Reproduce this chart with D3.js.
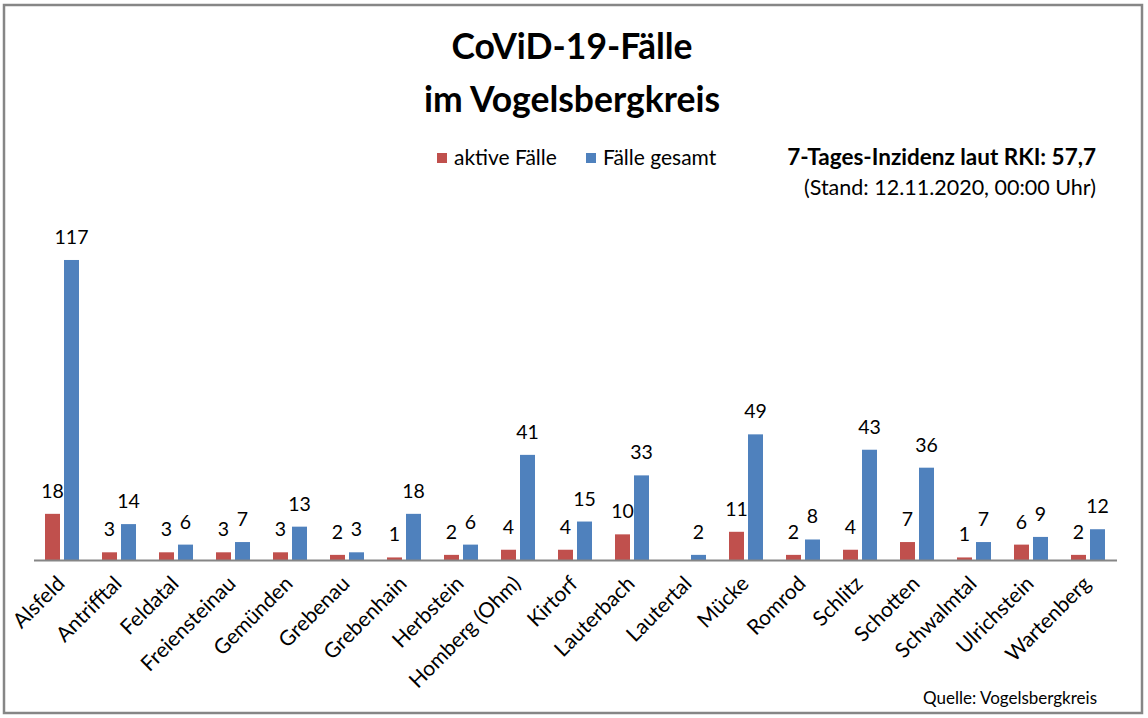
<!DOCTYPE html>
<html lang="de">
<head>
    <meta charset="UTF-8">
    <title>CoViD-19-Fälle im Vogelsbergkreis</title>
    <script src="https://d3js.org/d3.v7.min.js"></script>
    <style>
        body { margin: 0; background: #fff; }
        svg text { font-family: Lato, "Open Sans", sans-serif; fill: #000; }
        .axis path { stroke: #868686; stroke-width: 2; }
        .axis line { display: none; }
    </style>
</head>
<body>
<script>
// Data
const gemeinden = ["Alsfeld", "Antrifftal", "Feldatal", "Freiensteinau", "Gemünden", "Grebenau",
    "Grebenhain", "Herbstein", "Homberg (Ohm)", "Kirtorf", "Lauterbach", "Lautertal", "Mücke",
    "Romrod", "Schlitz", "Schotten", "Schwalmtal", "Ulrichstein", "Wartenberg"];
const aktiveFaelle = [18, 3, 3, 3, 3, 2, 1, 2, 4, 4, 10, 0, 11, 2, 4, 7, 1, 6, 2];
const faelleGesamt = [117, 14, 6, 7, 13, 3, 18, 6, 41, 15, 33, 2, 49, 8, 43, 36, 7, 9, 12];
const serien = ["aktive Fälle", "Fälle gesamt"];
const farben = ["#C0504D", "#4F81BD"];

const width = 1148, height = 718;
const plot = {left: 33.5, right: 1116.5, top: 201, bottom: 560};

const svg = d3.select("body").append("svg")
    .attr("width", width)
    .attr("height", height);

// Frame
svg.append("rect")
    .attr("x", 4).attr("y", 5)
    .attr("width", 1138).attr("height", 708)
    .attr("fill", "#fff")
    .attr("stroke", "#868686")
    .attr("stroke-width", 2.5);

// Scales
const x = d3.scaleBand().domain(gemeinden)
    .range([plot.left, plot.right])
    .paddingInner(0.4035).paddingOuter(0.2018);
const x1 = d3.scaleBand().domain(serien)
    .range([0, x.bandwidth()])
    .paddingInner(4 / 19);
const y = d3.scaleLinear().domain([0, 140]).range([plot.bottom, plot.top]);
const color = d3.scaleOrdinal().domain(serien).range(farben);

const rows = gemeinden.map((g, i) => ({
    name: g,
    values: [
        {serie: serien[0], value: aktiveFaelle[i]},
        {serie: serien[1], value: faelleGesamt[i]}
    ]
}));

// Bars
const groups = svg.selectAll(".gruppe")
    .data(rows)
    .enter().append("g")
    .attr("class", "gruppe")
    .attr("transform", d => `translate(${x(d.name)},0)`);

groups.selectAll("rect")
    .data(d => d.values)
    .enter().append("rect")
    .attr("x", d => x1(d.serie))
    .attr("y", d => y(d.value))
    .attr("width", x1.bandwidth())
    .attr("height", d => y(0) - y(d.value))
    .attr("fill", d => color(d.serie));

// Value labels (no label for 0)
groups.selectAll(".wert")
    .data(d => d.values.filter(v => v.value > 0))
    .enter().append("text")
    .attr("class", "wert")
    .attr("x", d => x1(d.serie) + x1.bandwidth() / 2)
    .attr("y", d => y(d.value) - 16)
    .attr("text-anchor", "middle")
    .style("font-size", "19.5px")
    .text(d => d.value);

// X axis
const xAxis = svg.append("g")
    .attr("class", "axis")
    .attr("transform", `translate(0,${plot.bottom})`)
    .call(d3.axisBottom(x).tickSize(0).tickSizeOuter(0));

xAxis.selectAll("text")
    .attr("text-anchor", "end")
    .attr("dy", null)
    .attr("y", 0)
    .attr("transform", "translate(4,25) rotate(-45)")
    .style("font-size", "21px");

// Title
svg.append("text")
    .attr("x", 572).attr("y", 59)
    .attr("text-anchor", "middle")
    .style("font-size", "35.5px").style("font-weight", "bold")
    .text("CoViD-19-Fälle");
svg.append("text")
    .attr("x", 572).attr("y", 112)
    .attr("text-anchor", "middle")
    .style("font-size", "35.5px").style("font-weight", "bold")
    .text("im Vogelsbergkreis");

// Legend
const legend = svg.append("g").attr("transform", "translate(437,165)");
const legendX = [0, 149];
serien.forEach((s, i) => {
    const item = legend.append("g").attr("transform", `translate(${legendX[i]},0)`);
    item.append("rect")
        .attr("x", 0).attr("y", -12)
        .attr("width", 10).attr("height", 10)
        .attr("fill", color(s));
    item.append("text")
        .attr("x", 17).attr("y", 0)
        .style("font-size", "21px")
        .text(s);
});

// Incidence note
svg.append("text")
    .attr("x", 1096).attr("y", 165)
    .attr("text-anchor", "end")
    .style("font-size", "22.5px").style("font-weight", "bold")
    .text("7-Tages-Inzidenz laut RKI: 57,7");
svg.append("text")
    .attr("x", 1096).attr("y", 195)
    .attr("text-anchor", "end")
    .style("font-size", "21.5px")
    .text("(Stand: 12.11.2020, 00:00 Uhr)");

// Source
svg.append("text")
    .attr("x", 1097).attr("y", 704)
    .attr("text-anchor", "end")
    .style("font-size", "17px")
    .text("Quelle: Vogelsbergkreis");
</script>
</body>
</html>
